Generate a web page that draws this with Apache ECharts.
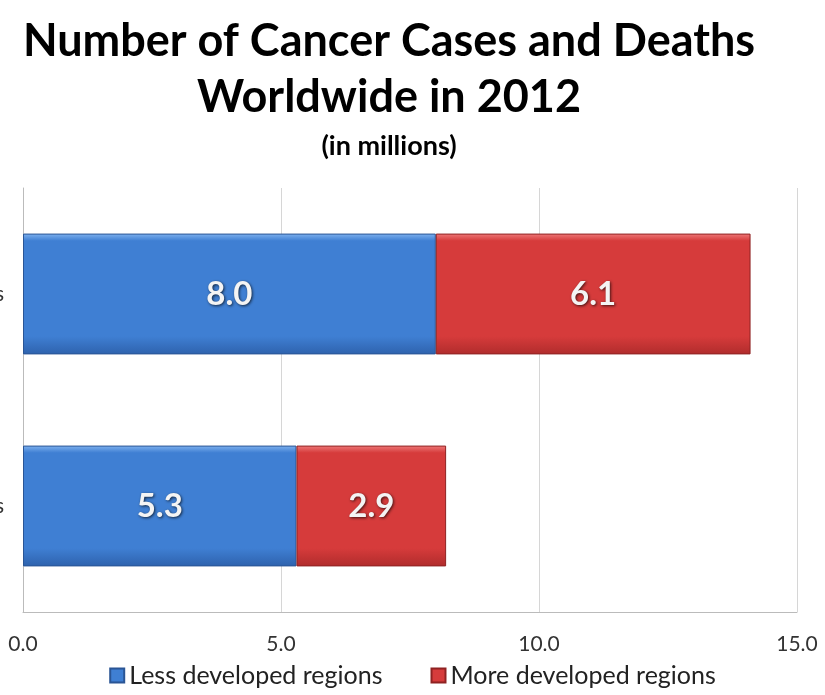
<!DOCTYPE html>
<html><head><meta charset="utf-8">
<script src="https://cdn.jsdelivr.net/npm/echarts@6/dist/echarts.min.js"></script>
<style>html,body{margin:0;padding:0;background:#fff}#c{width:825px;height:695px}</style>
</head><body><div id="c"></div>
<script>
var categories = ['Deaths', 'New cases'];
var lessDeveloped = [5.3, 8.0];
var moreDeveloped = [2.9, 6.1];
var xTicks = [0, 5, 10, 15];

var chart = echarts.init(document.getElementById('c'));
function grad(a, m, b) {
  return new echarts.graphic.LinearGradient(0, 0, 0, 1, [
    {offset: 0, color: a}, {offset: 0.06, color: m}, {offset: 0.85, color: m}, {offset: 1, color: b}
  ]);
}
var labelStyle = {
  show: true, position: 'inside', color: '#f4f4f4', fontFamily: 'Lato', fontWeight: 'bold', fontSize: 33,
  textShadowColor: 'rgba(0,0,0,0.7)', textShadowBlur: 3, textShadowOffsetX: 1, textShadowOffsetY: 1,
  formatter: function (p) { return p.value.toFixed(1); }
};
chart.setOption({
  animation: false,
  title: [
    {text: 'Number of Cancer Cases and Deaths\nWorldwide in 2012', left: 384, top: 8, textAlign: 'center',
     textStyle: {fontFamily: 'Lato', fontWeight: 'bold', fontSize: 45, lineHeight: 56, color: '#000'}},
    {text: '(in millions)', left: 384, top: 128, textAlign: 'center',
     textStyle: {fontFamily: 'Lato', fontWeight: 'bold', fontSize: 27, color: '#000'}}
  ],
  legend: {
    bottom: 2, left: 'center', itemWidth: 14, itemHeight: 14, itemGap: 48, icon: 'rect',
    textStyle: {fontFamily: 'Lato', fontSize: 25, color: '#222'},
    data: ['Less developed regions', 'More developed regions']
  },
  grid: {left: 23, right: 28, top: 188, bottom: 83, outerBoundsMode: 'none', containLabel: false},
  xAxis: {
    type: 'value', min: 0, max: 15, interval: 5,
    axisLine: {show: true, lineStyle: {color: '#bbb'}},
    axisTick: {show: false},
    splitLine: {lineStyle: {color: '#d6d6d6'}},
    axisLabel: {fontFamily: 'Lato', fontSize: 21, color: '#333', margin: 22,
      formatter: function (v) { return xTicks.indexOf(v) >= 0 ? v.toFixed(1) : ''; }}
  },
  yAxis: {
    type: 'category', data: categories,
    axisLine: {show: true, lineStyle: {color: '#bbb'}},
    axisTick: {show: false},
    axisLabel: {fontFamily: 'Lato', fontSize: 21, color: '#333', margin: 19}
  },
  series: [
    {name: 'Less developed regions', type: 'bar', stack: 'a', barWidth: '57%', data: lessDeveloped,
     itemStyle: {color: grad('#7fb2ef', '#3f7fd3', '#2e62ad'), borderColor: '#2a5595', borderWidth: 1},
     label: labelStyle},
    {name: 'More developed regions', type: 'bar', stack: 'a', barWidth: '57%', data: moreDeveloped,
     itemStyle: {color: grad('#ee7a7a', '#d63b3b', '#b02c2c'), borderColor: '#8f2222', borderWidth: 1},
     label: labelStyle}
  ]
});
</script></body></html>
